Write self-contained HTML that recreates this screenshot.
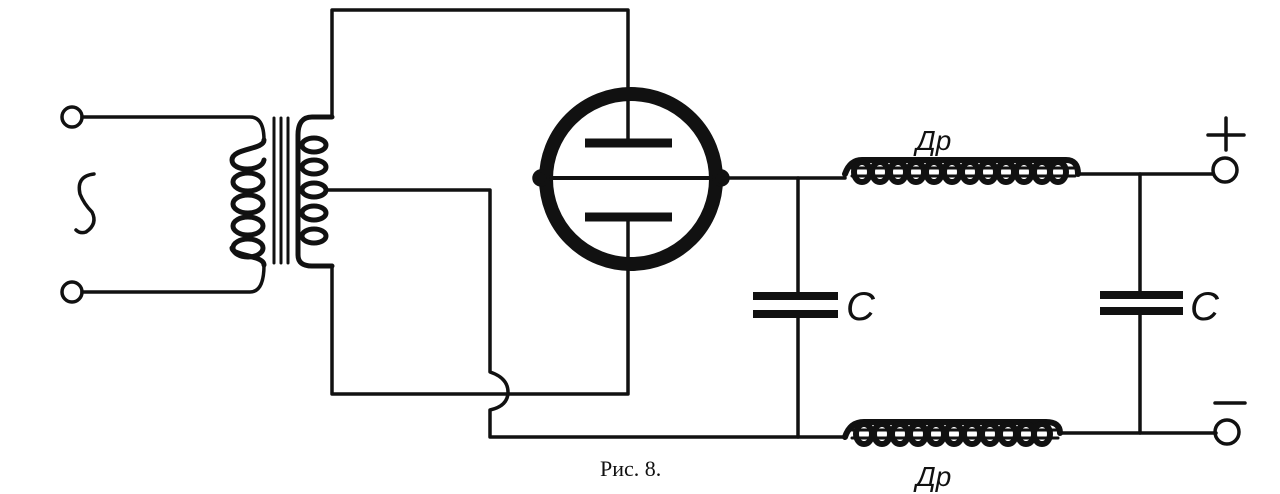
<!DOCTYPE html>
<html><head><meta charset="utf-8"><style>
html,body{margin:0;padding:0;background:#fff;}
svg{display:block;}
</style></head><body>
<svg width="1280" height="494" viewBox="0 0 1280 494" xmlns="http://www.w3.org/2000/svg">
<g fill="none" stroke="#111" stroke-width="3.5" stroke-linecap="round" stroke-linejoin="round">
<!-- input terminals -->
<circle cx="72" cy="117" r="10"/>
<circle cx="72" cy="292" r="10"/>
<path d="M82 117 H250 Q264 117 264 140"/>
<path d="M82 292 H250 Q264 292 264 265"/>
<!-- tilde -->
<path d="M94 174 Q76 176 80 194 Q84 204 92 212 Q98 224 86 232 Q80 234 76 230" stroke-width="3.5"/>
<!-- primary coil -->
<g stroke-width="5">
<path d="M264 140 C264 150 232 148 232 160 C232 172 262 172 264 160"/>
<ellipse cx="248" cy="182" rx="15" ry="9"/>
<ellipse cx="248" cy="204" rx="15" ry="9"/>
<ellipse cx="248" cy="226" rx="15" ry="9"/>
<ellipse cx="248" cy="248" rx="15" ry="9"/>
<path d="M264 265 C264 255 232 256 232 248"/>
</g>
<!-- core -->
<line x1="274" y1="118" x2="274" y2="263" stroke-width="3"/>
<line x1="281" y1="118" x2="281" y2="263" stroke-width="3"/>
<line x1="288" y1="118" x2="288" y2="263" stroke-width="3"/>
<!-- secondary -->
<g stroke-width="5">
<path d="M332 117 H312 Q298 117 298 135 V255 Q298 266 312 266 H332"/>
<ellipse cx="314" cy="145" rx="12" ry="7"/>
<ellipse cx="314" cy="167" rx="12" ry="7"/>
<ellipse cx="314" cy="190" rx="12" ry="7"/>
<ellipse cx="314" cy="213" rx="12" ry="7"/>
<ellipse cx="314" cy="236" rx="12" ry="7"/>
</g>
<!-- outer frame wires -->
<path d="M332 117 V10 H628 V143"/>
<path d="M332 266 V394 H628 V217"/>
<!-- center tap with hop -->
<path d="M326 190 H490 V372 Q508 378 508 392 Q508 406 490 410 V437 H845"/>
<!-- tube -->
<circle cx="631" cy="179" r="85" stroke-width="14"/>
<line x1="540" y1="178" x2="722" y2="178" stroke-width="4"/>
<circle cx="541" cy="178" r="7" fill="#111"/>
<circle cx="721" cy="178" r="7" fill="#111"/>
<line x1="585" y1="143" x2="672" y2="143" stroke-width="9" stroke-linecap="butt"/>
<line x1="585" y1="217" x2="672" y2="217" stroke-width="9" stroke-linecap="butt"/>
<!-- right circuit -->
<path d="M722 178 H845"/>
<path d="M1078 174 H1213"/>
<path d="M1060 433 H1216"/>
<line x1="798" y1="178" x2="798" y2="297"/>
<line x1="798" y1="313" x2="798" y2="437"/>
<line x1="753" y1="296" x2="838" y2="296" stroke-width="8" stroke-linecap="butt"/>
<line x1="753" y1="314" x2="838" y2="314" stroke-width="8" stroke-linecap="butt"/>
<line x1="1140" y1="174" x2="1140" y2="295"/>
<line x1="1140" y1="311" x2="1140" y2="433"/>
<line x1="1100" y1="295" x2="1183" y2="295" stroke-width="8" stroke-linecap="butt"/>
<line x1="1100" y1="311" x2="1183" y2="311" stroke-width="8" stroke-linecap="butt"/>
<circle cx="1225" cy="170" r="12"/>
<circle cx="1227" cy="432" r="12"/>
<path d="M1208 135 H1244 M1226 118 V150"/>
<line x1="1215" y1="403" x2="1245" y2="403"/>
<!-- top choke -->
<g stroke-width="6">
<path d="M845 174 Q850 160 862 160 H1066 Q1078 160 1078 174"/>
<ellipse cx="862" cy="172" rx="8" ry="10"/><ellipse cx="880" cy="172" rx="8" ry="10"/>
<ellipse cx="898" cy="172" rx="8" ry="10"/><ellipse cx="916" cy="172" rx="8" ry="10"/>
<ellipse cx="934" cy="172" rx="8" ry="10"/><ellipse cx="952" cy="172" rx="8" ry="10"/>
<ellipse cx="970" cy="172" rx="8" ry="10"/><ellipse cx="988" cy="172" rx="8" ry="10"/>
<ellipse cx="1006" cy="172" rx="8" ry="10"/><ellipse cx="1024" cy="172" rx="8" ry="10"/>
<ellipse cx="1042" cy="172" rx="8" ry="10"/><ellipse cx="1058" cy="172" rx="8" ry="10"/>
</g>
<line x1="852" y1="168" x2="1075" y2="168" stroke-width="3"/>
<line x1="852" y1="176" x2="1075" y2="176" stroke-width="3"/>
<!-- bottom choke -->
<g stroke-width="6">
<path d="M845 437 Q850 422 864 422 H1046 Q1060 422 1060 433"/>
<ellipse cx="864" cy="434" rx="8" ry="10"/><ellipse cx="882" cy="434" rx="8" ry="10"/>
<ellipse cx="900" cy="434" rx="8" ry="10"/><ellipse cx="918" cy="434" rx="8" ry="10"/>
<ellipse cx="936" cy="434" rx="8" ry="10"/><ellipse cx="954" cy="434" rx="8" ry="10"/>
<ellipse cx="972" cy="434" rx="8" ry="10"/><ellipse cx="990" cy="434" rx="8" ry="10"/>
<ellipse cx="1008" cy="434" rx="8" ry="10"/><ellipse cx="1026" cy="434" rx="8" ry="10"/>
<ellipse cx="1042" cy="434" rx="8" ry="10"/>
</g>
<line x1="852" y1="430" x2="1058" y2="430" stroke-width="3"/>
<line x1="852" y1="438" x2="1058" y2="438" stroke-width="3"/>
</g>
<g fill="#111" font-family="Liberation Sans, sans-serif" font-style="italic">
<text x="916" y="150" font-size="28">Др</text>
<text x="916" y="486" font-size="28">Др</text>
<text x="846" y="320" font-size="40">C</text>
<text x="1190" y="320" font-size="40">C</text>
</g>
<text x="600" y="476" font-family="Liberation Serif, serif" font-size="22" fill="#111">Рис. 8.</text>
</svg>
</body></html>
